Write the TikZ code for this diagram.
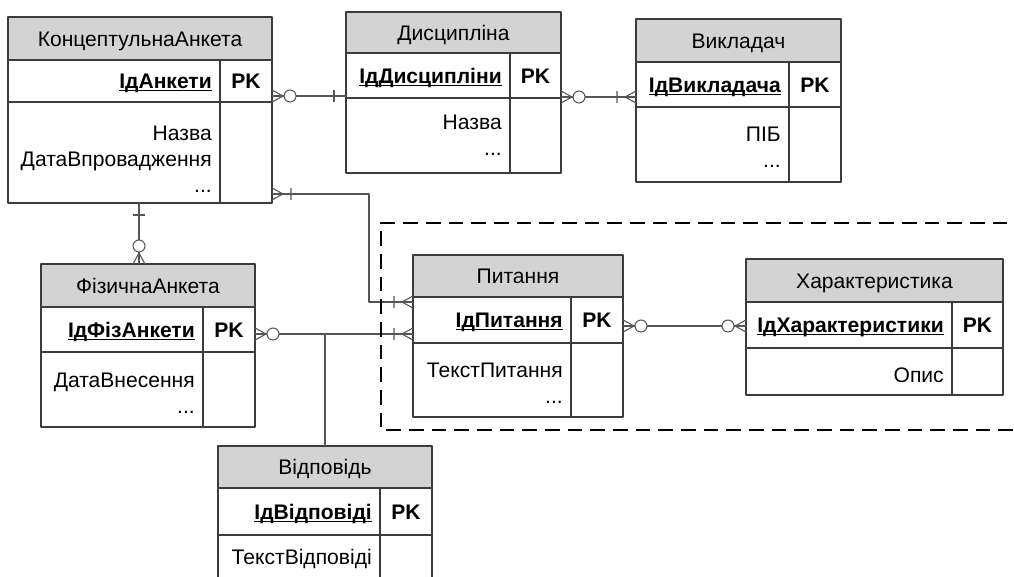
\documentclass[tikz,border=0pt]{standalone}
\usepackage{fontspec}
\setmainfont{Liberation Sans}
\definecolor{hdrgray}{RGB}{211,211,211}
\definecolor{tabgray}{RGB}{60,60,60}
\definecolor{conngray}{RGB}{85,85,85}
% frame of one table: x1, top, x2, header bottom, key bottom, bottom, divider
\newcommand{\erframe}[7]{%
  \fill[hdr] (#1,#2) rectangle (#3,#4);
  \draw[tab] (#1,#2) rectangle (#3,#6) (#1,#4) -- (#3,#4) (#1,#5) -- (#3,#5) (#7,#4) -- (#7,#6);}
\newcommand{\keyul}[1]{\underline{\smash{#1}}}
\begin{document}
\begin{tikzpicture}[x=0.75pt,y=-0.75pt,line join=round,
  hdr/.style={fill=hdrgray},
  tab/.style={draw=tabgray,line width=1pt},
  conn/.style={draw=conngray,line width=0.8pt},
  ttl/.style={anchor=base,inner sep=0pt,font=\fontsize{15.8}{19.5}\selectfont},
  key/.style={anchor=base east,inner sep=0pt,font=\fontsize{15.8}{19.5}\selectfont\bfseries},
  pk/.style={anchor=base,inner sep=0pt,font=\fontsize{15.8}{19.5}\selectfont\bfseries},
  attr/.style={anchor=north east,align=right,inner sep=0pt,font=\fontsize{15.8}{19.5}\selectfont},
  zmany/.pic={\draw[conn] (0,-6)--(11,0)--(0,6); \draw[conn,fill=white] (18,0) circle (6);},
  omany/.pic={\draw[conn] (0,-6)--(11,0)--(0,6) (19,-6)--(19,6);},
  onebar/.pic={\draw[conn] (12,-6)--(12,6);}]
\useasboundingbox (0,0) rectangle (1014,576);
\clip (0,0) rectangle (1014,576);

% tables
\erframe{8}{17}{272}{60}{102}{203}{220}
\node[ttl] (ka) at (140,46) {КонцептульнаАнкета};
\node[key] (ka-key) at (212,88.5) {\keyul{ІдАнкети}};
\node[pk] (ka-pk) at (246,88.5) {PK};
\node[attr] (ka-att) at (212,126) {Назва\\ДатаВпровадження\\...};

\erframe{346}{12}{561}{53}{98}{173}{510}
\node[ttl] (dis) at (453.5,40) {Дисципліна};
\node[key] (dis-key) at (502,83) {\keyul{ІдДисципліни}};
\node[pk] (dis-pk) at (535.5,83) {PK};
\node[attr] (dis-att) at (502,115) {Назва\\...};

\erframe{636}{19}{841}{62}{107}{182}{789}
\node[ttl] (vyk) at (738.5,48) {Викладач};
\node[key] (vyk-key) at (781,92) {\keyul{ІдВикладача}};
\node[pk] (vyk-pk) at (815,92) {PK};
\node[attr] (vyk-att) at (781,127) {ПІБ\\...};

\erframe{41}{264}{255}{307}{352}{427}{203}
\node[ttl] (fa) at (148,293) {ФізичнаАнкета};
\node[key] (fa-key) at (195,337) {\keyul{ІдФізАнкети}};
\node[pk] (fa-pk) at (229,337) {PK};
\node[attr] (fa-att) at (195,373) {ДатаВнесення\\...};

\erframe{413}{255}{623}{297}{343}{417}{571}
\node[ttl] (pyt) at (518,283.5) {Питання};
\node[key] (pyt-key) at (563,327.5) {\keyul{ІдПитання}};
\node[pk] (pyt-pk) at (597,327.5) {PK};
\node[attr] (pyt-att) at (563,363) {ТекстПитання\\...};

\erframe{746}{259}{1003}{302}{348}{395}{952}
\node[ttl] (khar) at (874.5,288) {Характеристика};
\node[key] (khar-key) at (944,332.5) {\keyul{ІдХарактеристики}};
\node[pk] (khar-pk) at (977.5,332.5) {PK};
\node[attr] (khar-att) at (944,368) {Опис};

\erframe{218}{446}{432}{488}{535}{600}{380}
\node[ttl] (vid) at (325,474.5) {Відповідь};
\node[key] (vid-key) at (372,519) {\keyul{ІдВідповіді}};
\node[pk] (vid-pk) at (406,519) {PK};
\node[attr] (vid-att) at (372,549) {ТекстВідповіді};

% connection points
\coordinate (ka-e1) at (272,96);
\coordinate (ka-e2) at (272,194);
\coordinate (ka-s1) at (139,203);
\coordinate (dis-w1) at (346,96);
\coordinate (dis-e1) at (561,97);
\coordinate (vyk-w1) at (636,97);
\coordinate (fa-n1) at (139,264);
\coordinate (fa-e1) at (255,334);
\coordinate (pyt-w1) at (413,302);
\coordinate (pyt-w2) at (413,334);
\coordinate (pyt-e1) at (623,326);
\coordinate (khar-w1) at (746,326);
\coordinate (vid-n1) at (325,446);
\coordinate (bend1) at (369,194);
\coordinate (jn1) at (325,334);

% relations
\draw[conn] (ka-e1) -- (dis-w1);
\draw[conn] (dis-e1) -- (vyk-w1);
\draw[conn] (ka-e2) -- (bend1) |- (pyt-w1);
\draw[conn] (ka-s1) -- (fa-n1);
\draw[conn] (fa-e1) -- (pyt-w2);
\draw[conn] (jn1) -- (vid-n1);
\draw[conn] (pyt-e1) -- (khar-w1);

\pic at (ka-e1) {zmany};
\pic[rotate=180] at (dis-w1) {onebar};
\pic at (dis-e1) {zmany};
\pic[rotate=180] at (vyk-w1) {omany};
\pic at (ka-e2) {omany};
\pic[rotate=180] at (pyt-w1) {omany};
\pic[rotate=-90] at (ka-s1) {onebar};
\pic[rotate=90] at (fa-n1) {zmany};
\pic at (fa-e1) {zmany};
\pic[rotate=180] at (pyt-w2) {omany};
\pic at (pyt-e1) {zmany};
\pic[rotate=180] at (khar-w1) {zmany};

% group border
\draw[line width=1.8pt,dash pattern=on 11pt off 6pt] (1030,223) -| (381,430) -- (1030,430);
\end{tikzpicture}
\end{document}
